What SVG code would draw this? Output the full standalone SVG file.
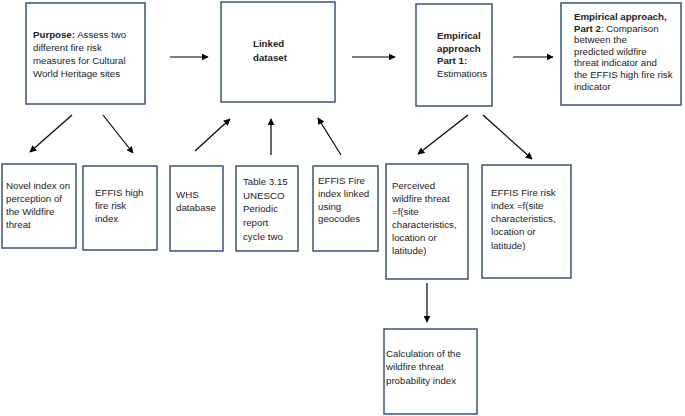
<svg xmlns="http://www.w3.org/2000/svg" width="685" height="416" viewBox="0 0 685 416">
<defs>
<style>
.box{fill:#fff;stroke:#3b5180;stroke-width:1.5}
.t{font-family:"Liberation Sans",Arial,sans-serif;font-size:9.7px;fill:#222}
.b{font-weight:bold}
.c{stroke:#000;stroke-width:1.2;fill:none;marker-end:url(#ah)}
</style>
<marker id="ah" viewBox="0 0 10 10" refX="9" refY="5" markerWidth="7" markerHeight="7" markerUnits="userSpaceOnUse" orient="auto">
<path d="M0,0 L10,5 L0,10 z" fill="#000"/>
</marker>
</defs>
<rect width="685" height="416" fill="#fff"/>
<g id="connectors">
<line class="c" x1="170" y1="57" x2="208" y2="57"/>
<line class="c" x1="352" y1="57" x2="395" y2="57"/>
<line class="c" x1="513" y1="57" x2="553" y2="57"/>
<line class="c" x1="72" y1="115" x2="30" y2="152"/>
<line class="c" x1="103" y1="115" x2="133" y2="153"/>
<line class="c" x1="195" y1="151" x2="230" y2="119"/>
<line class="c" x1="271" y1="155" x2="271" y2="119"/>
<line class="c" x1="341" y1="155" x2="318" y2="118"/>
<line class="c" x1="468" y1="115" x2="418" y2="154"/>
<line class="c" x1="483" y1="115" x2="532" y2="159"/>
<line class="c" x1="427" y1="283" x2="427" y2="322"/>
</g>
<g id="purpose">
<rect class="box" x="26" y="3" width="119" height="101"/>
<text class="t" x="33" y="38"><tspan class="b">Purpose:</tspan> Assess two</text>
<text class="t" x="33" y="51">different fire risk</text>
<text class="t" x="33" y="64">measures for Cultural</text>
<text class="t" x="33" y="77">World Heritage sites</text>
</g>
<g id="linked">
<rect class="box" x="221" y="2" width="114" height="100"/>
<text class="t b" x="253" y="47">Linked</text>
<text class="t b" x="253" y="61">dataset</text>
</g>
<g id="part1">
<rect class="box" x="416" y="4" width="76" height="102"/>
<text class="t b" x="437" y="39">Empirical</text>
<text class="t b" x="437" y="52">approach</text>
<text class="t b" x="437" y="64">Part 1:</text>
<text class="t" x="437" y="77">Estimations</text>
</g>
<g id="part2">
<rect class="box" x="561" y="3" width="120" height="102"/>
<text class="t b" x="574" y="20">Empirical approach,</text>
<text class="t" x="574" y="32"><tspan class="b">Part 2</tspan>: Comparison</text>
<text class="t" x="574" y="43">between the</text>
<text class="t" x="574" y="55">predicted wildfire</text>
<text class="t" x="574" y="66">threat indicator and</text>
<text class="t" x="574" y="78">the EFFIS high fire risk</text>
<text class="t" x="574" y="90">indicator</text>
</g>
<g id="novel">
<rect class="box" x="2" y="164" width="74" height="84"/>
<text class="t" x="6" y="189">Novel index on</text>
<text class="t" x="6" y="202">perception of</text>
<text class="t" x="6" y="215">the Wildfire</text>
<text class="t" x="6" y="228">threat</text>
</g>
<g id="effis-high">
<rect class="box" x="83" y="166" width="74" height="84"/>
<text class="t" x="95" y="196">EFFIS high</text>
<text class="t" x="95" y="209">fire risk</text>
<text class="t" x="95" y="222">index</text>
</g>
<g id="whs">
<rect class="box" x="170" y="166" width="53" height="85"/>
<text class="t" x="176" y="198">WHS</text>
<text class="t" x="176" y="211">database</text>
</g>
<g id="table">
<rect class="box" x="236" y="166" width="62" height="85"/>
<text class="t" x="243" y="185">Table 3.15</text>
<text class="t" x="243" y="199">UNESCO</text>
<text class="t" x="243" y="212">Periodic</text>
<text class="t" x="243" y="226">report</text>
<text class="t" x="243" y="240">cycle two</text>
</g>
<g id="effis-linked">
<rect class="box" x="313" y="166" width="65" height="85"/>
<text class="t" x="318" y="184">EFFIS Fire</text>
<text class="t" x="318" y="197">index linked</text>
<text class="t" x="318" y="210">using</text>
<text class="t" x="318" y="222">geocodes</text>
</g>
<g id="perceived">
<rect class="box" x="386" y="164" width="82" height="115"/>
<text class="t" x="392" y="189">Perceived</text>
<text class="t" x="392" y="202">wildfire threat</text>
<text class="t" x="392" y="215">=f(site</text>
<text class="t" x="392" y="228">characteristics,</text>
<text class="t" x="392" y="241">location or</text>
<text class="t" x="392" y="254">latitude)</text>
</g>
<g id="effis-risk">
<rect class="box" x="482" y="165" width="89" height="113"/>
<text class="t" x="491" y="196">EFFIS Fire risk</text>
<text class="t" x="491" y="209">index =f(site</text>
<text class="t" x="491" y="222">characteristics,</text>
<text class="t" x="491" y="235">location or</text>
<text class="t" x="491" y="249">latitude)</text>
</g>
<g id="calc">
<rect class="box" x="384" y="329" width="93" height="85"/>
<text class="t" x="386" y="357">Calculation of the</text>
<text class="t" x="386" y="370">wildfire threat</text>
<text class="t" x="386" y="384">probability index</text>
</g>
</svg>
